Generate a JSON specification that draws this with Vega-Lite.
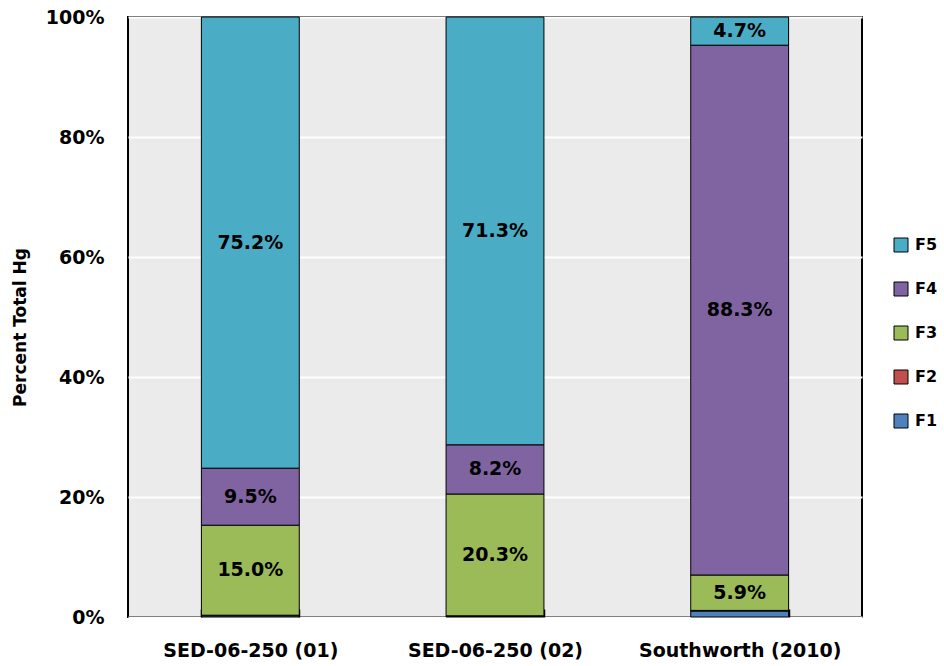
{
  "$schema": "https://vega.github.io/schema/vega-lite/v6.json",
  "width": 734,
  "height": 600,
  "autosize": {"type": "none"},
  "padding": {"left": 128, "top": 17, "right": 82, "bottom": 49},
  "background": "white",
  "config": {
    "font": "DejaVu Sans",
    "view": {"fill": "#EBEBEB", "stroke": "black", "strokeWidth": 2}
  },
  "data": {
    "values": [
      {"sample": "SED-06-250 (01)", "f": "F1", "v": 0.002},
      {"sample": "SED-06-250 (01)", "f": "F2", "v": 0.001},
      {"sample": "SED-06-250 (01)", "f": "F3", "v": 0.150},
      {"sample": "SED-06-250 (01)", "f": "F4", "v": 0.095},
      {"sample": "SED-06-250 (01)", "f": "F5", "v": 0.752},
      {"sample": "SED-06-250 (02)", "f": "F1", "v": 0.0015},
      {"sample": "SED-06-250 (02)", "f": "F2", "v": 0.0005},
      {"sample": "SED-06-250 (02)", "f": "F3", "v": 0.203},
      {"sample": "SED-06-250 (02)", "f": "F4", "v": 0.082},
      {"sample": "SED-06-250 (02)", "f": "F5", "v": 0.713},
      {"sample": "Southworth (2010)", "f": "F1", "v": 0.010},
      {"sample": "Southworth (2010)", "f": "F2", "v": 0.001},
      {"sample": "Southworth (2010)", "f": "F3", "v": 0.059},
      {"sample": "Southworth (2010)", "f": "F4", "v": 0.883},
      {"sample": "Southworth (2010)", "f": "F5", "v": 0.047}
    ]
  },
  "encoding": {
    "x": {
      "field": "sample",
      "type": "nominal",
      "sort": null,
      "scale": {"paddingInner": 0.6, "paddingOuter": 0.3},
      "axis": {
        "title": null,
        "labelAngle": 0,
        "labelFontSize": 19,
        "labelFontWeight": "bold",
        "labelColor": "black",
        "labelPadding": 32,
        "labelLimit": 0,
        "ticks": true,
        "tickBand": "extent",
        "tickSize": -8,
        "tickColor": "black",
        "tickWidth": 1.5,
        "domain": false,
        "grid": false
      }
    },
    "y": {
      "field": "v",
      "type": "quantitative",
      "stack": "zero",
      "scale": {"domain": [0, 1], "nice": false},
      "axis": {
        "title": "Percent Total Hg",
        "titleFontSize": 17,
        "titleFontWeight": "bold",
        "titleColor": "black",
        "titleX": -99,
        "titleY": 310,
        "format": ".0%",
        "values": [0, 0.2, 0.4, 0.6, 0.8, 1],
        "labelFontSize": 19,
        "labelFontWeight": "bold",
        "labelColor": "black",
        "labelPadding": 24,
        "ticks": false,
        "domain": false,
        "grid": true,
        "gridColor": "white",
        "gridWidth": 2
      }
    },
    "order": {"field": "f", "type": "nominal", "sort": "ascending"}
  },
  "layer": [
    {
      "mark": {"type": "bar", "stroke": "black", "strokeWidth": 1},
      "encoding": {
        "color": {
          "field": "f",
          "type": "nominal",
          "scale": {
            "domain": ["F1", "F2", "F3", "F4", "F5"],
            "range": ["#4F81BD", "#C0504D", "#9BBB59", "#8064A2", "#4BACC6"]
          },
          "legend": {
            "title": null,
            "values": ["F5", "F4", "F3", "F2", "F1"],
            "orient": "none",
            "legendX": 765,
            "legendY": 220,
            "symbolType": "square",
            "symbolSize": 196,
            "symbolStrokeColor": "black",
            "symbolStrokeWidth": 1,
            "labelFontSize": 16,
            "labelFontWeight": "bold",
            "labelColor": "black",
            "labelOffset": 6,
            "rowPadding": 26
          }
        }
      }
    },
    {
      "mark": {"type": "text", "fontSize": 19, "fontWeight": "bold", "color": "black", "baseline": "middle"},
      "encoding": {
        "y": {"field": "v", "type": "quantitative", "stack": "zero", "bandPosition": 0.5},
        "detail": {"field": "f", "type": "nominal"},
        "text": {
          "condition": {"test": "datum.v < 0.03", "value": ""},
          "field": "v",
          "type": "quantitative",
          "format": ".1%"
        }
      }
    }
  ]
}
